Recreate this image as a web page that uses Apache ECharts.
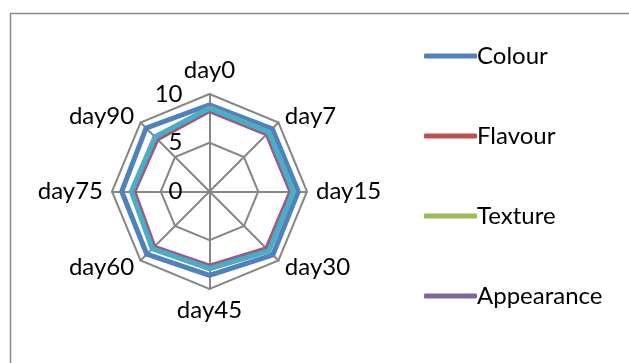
<!DOCTYPE html>
<html>
<head>
<meta charset="utf-8">
<script src="https://cdn.jsdelivr.net/npm/echarts@6/dist/echarts.min.js"></script>
<style>
  html, body { margin: 0; padding: 0; background: #ffffff; }
  #chart { width: 629px; height: 363px; }
</style>
</head>
<body>
<div id="chart"></div>
<script>
// Sensory scores over storage time (0-10 scale)
const days = ['day0', 'day7', 'day15', 'day30', 'day45', 'day60', 'day75', 'day90'];
const scaleMin = 0;
const scaleMax = 10;
const scaleStep = 5;

const colour      = [8.9, 9.1, 9.1, 9.2, 8.6, 9.1, 9.0, 9.2];
const flavour     = [8.3, 8.35, 8.35, 8.3, 7.65, 8.05, 7.75, 7.6];
const texture     = [8.55, 8.6, 8.6, 8.6, 7.9, 8.3, 8.0, 7.9];
const appearance  = [8.4, 8.45, 8.45, 8.45, 7.75, 8.15, 7.85, 7.75];
const overall     = [8.55, 8.6, 8.6, 8.6, 7.9, 8.3, 8.0, 7.9];

const legendNames = ['Colour', 'Flavour', 'Texture', 'Appearance'];

// ECharts lays radar indicators out counter-clockwise from the top;
// reorder so the days run clockwise (day0 top, day7 upper right ...).
const order = days.map((_, i) => (days.length - i) % days.length);
const arrange = arr => order.map(i => arr[i]);

const fontFamily = 'Lato, "Liberation Sans", sans-serif';
const gridGrey = '#878787';
const lineW = 5;

const indicators = order.map((i, k) => {
  const ind = { name: days[i], min: scaleMin, max: scaleMax };
  if (k === 0) {
    ind.axisLabel = {
      show: true,
      color: '#000',
      fontSize: 24,
      fontFamily: fontFamily,
      margin: 27,
      showMinLabel: true,
      showMaxLabel: true
    };
  }
  return ind;
});

const chart = echarts.init(document.getElementById('chart'), null, { renderer: 'canvas' });

chart.setOption({
  animation: false,
  backgroundColor: '#ffffff',
  graphic: [{
    type: 'rect',
    shape: { x: 10.5, y: 13.5, width: 700, height: 400 },
    style: { fill: 'none', stroke: '#8a8a8a', lineWidth: 1.5 },
    silent: true
  }],
  legend: {
    data: legendNames,
    orient: 'vertical',
    left: 419,
    top: 39,
    itemWidth: 53,
    itemHeight: 5,
    itemGap: 56,
    icon: 'roundRect',
    textStyle: { color: '#000', fontSize: 24, fontFamily: fontFamily, padding: [0, 0, 0, -5] }
  },
  radar: {
    center: [209.5, 191.5],
    radius: 97.5,
    shape: 'polygon',
    splitNumber: (scaleMax - scaleMin) / scaleStep,
    nameGap: 9,
    axisName: { color: '#000', fontSize: 24, fontFamily: fontFamily },
    axisLine: { lineStyle: { color: gridGrey, width: 2 } },
    splitLine: { lineStyle: { color: gridGrey, width: 2 } },
    splitArea: { show: false },
    axisTick: { show: false },
    axisLabel: { show: false },
    indicator: indicators
  },
  series: [{
    type: 'radar',
    symbol: 'none',
    data: [
      { name: 'Colour', value: arrange(colour),
        lineStyle: { color: '#4F81BD', width: lineW }, itemStyle: { color: '#4F81BD' } },
      { name: 'Flavour', value: arrange(flavour),
        lineStyle: { color: '#C0504D', width: lineW }, itemStyle: { color: '#C0504D' } },
      { name: 'Texture', value: arrange(texture),
        lineStyle: { color: '#9BBB59', width: lineW }, itemStyle: { color: '#9BBB59' } },
      { name: 'Appearance', value: arrange(appearance),
        lineStyle: { color: '#8064A2', width: lineW }, itemStyle: { color: '#8064A2' } },
      { name: 'Overall acceptability', value: arrange(overall),
        lineStyle: { color: '#4BACC6', width: lineW }, itemStyle: { color: '#4BACC6' } }
    ]
  }]
});
</script>
</body>
</html>
